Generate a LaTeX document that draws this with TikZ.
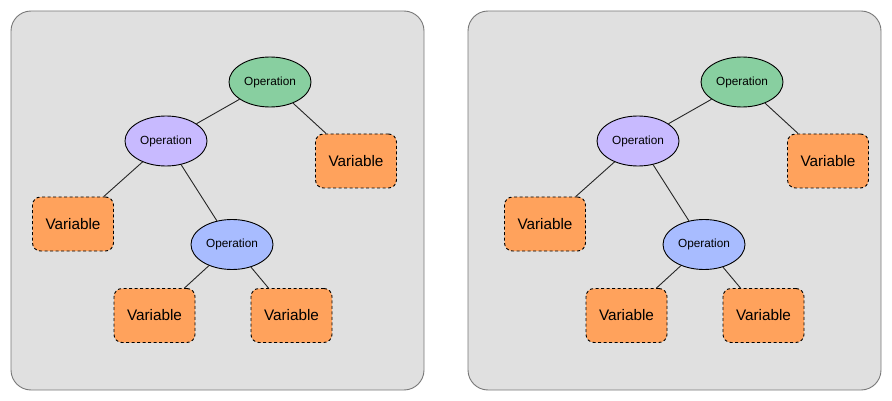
\documentclass[tikz,border=0pt]{standalone}
\usepackage{fontspec}
\setmainfont{Liberation Sans}
\usetikzlibrary{shapes.geometric}
\definecolor{panelfill}{RGB}{224,224,224}
\definecolor{paneldraw}{RGB}{120,120,120}
\definecolor{opgreen}{RGB}{136,207,160}
\definecolor{oppurple}{RGB}{200,186,255}
\definecolor{opblue}{RGB}{168,188,255}
\definecolor{varorange}{RGB}{255,162,92}
\tikzset{
  panel/.style={draw=paneldraw, fill=panelfill, line width=0.9pt, rounded corners=20pt},
  opnode/.style={ellipse, draw=black, line width=0.9pt, minimum width=82pt, minimum height=50pt, inner sep=0pt, font=\fontsize{11.8}{13}\selectfont},
  varnode/.style={rectangle, draw=black, dashed, dash pattern=on 3pt off 2.5pt, line width=0.9pt, fill=varorange, rounded corners=8pt, minimum width=81pt, minimum height=54pt, inner sep=0pt, font=\fontsize{15.3}{17}\selectfont},
  edge/.style={draw=black!85, line width=0.9pt}
}
\begin{document}
\begin{tikzpicture}[x=1pt,y=-1pt]
\useasboundingbox (0,0) rectangle (892,401);
\foreach \s/\p/\n in {0/0/L,472/457/R}{
  \begin{scope}[xshift=\p pt]
    \draw[panel] (11,11) rectangle (424,390);
  \end{scope}
  \begin{scope}[xshift=\s pt]
    \node[opnode, fill=opgreen] (g\n) at (270,82) {Operation};
    \node[opnode, fill=oppurple] (p\n) at (166,141) {Operation};
    \node[opnode, fill=opblue] (b\n) at (232,244.5) {Operation};
    \node[varnode] (vr\n) at (356,161) {Variable};
    \node[varnode] (vl\n) at (73,224) {Variable};
    \node[varnode] (vbl\n) at (154.5,315.5) {Variable};
    \node[varnode] (vbr\n) at (291.5,315.5) {Variable};
    \draw[edge] (g\n) -- (p\n);
    \draw[edge] (g\n) -- (vr\n);
    \draw[edge] (p\n) -- (vl\n);
    \draw[edge] (p\n) -- (b\n);
    \draw[edge] (b\n) -- (vbl\n);
    \draw[edge] (b\n) -- (vbr\n);
  \end{scope}
}
\end{tikzpicture}
\end{document}
